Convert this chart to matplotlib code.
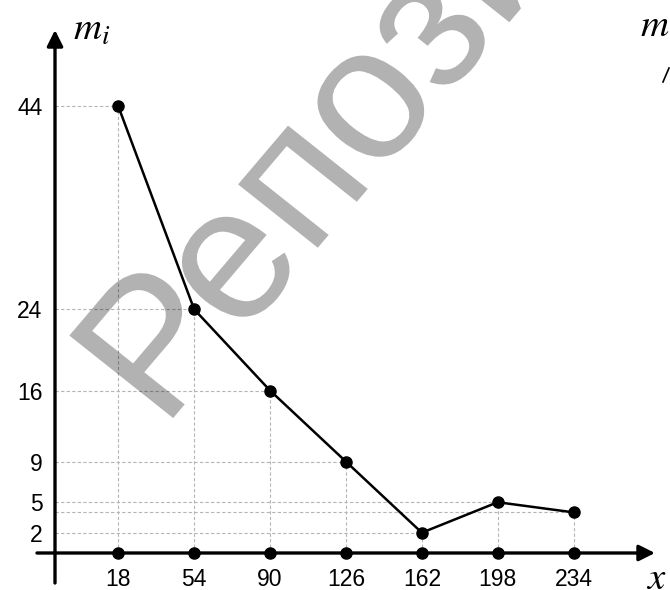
import numpy as np
import matplotlib.pyplot as plt
from matplotlib.textpath import TextPath
from matplotlib.patches import PathPatch
from matplotlib.font_manager import FontProperties
from matplotlib.transforms import Affine2D

plt.rcParams['font.family'] = ['Liberation Sans', 'DejaVu Sans']
plt.rcParams['mathtext.fontset'] = 'stix'

# -----------------------------
# Données
# -----------------------------
x_vals = [18, 54, 90, 126, 162, 198, 234]
m_vals = [44, 24, 16, 9, 2, 5, 4]
y_ticks = [44, 24, 16, 9, 5, 2]
x_lim = (-12.0, 272.6)
y_lim = (0, 51.5)

# -----------------------------
# Figure
# -----------------------------
fig = plt.figure(figsize=(6.7, 5.9), dpi=100)
ax = fig.add_axes([55 / 670, 1 - 553 / 590, 600 / 670, 523 / 590])
ax.set_xlim(*x_lim)
ax.set_ylim(*y_lim)
for s in ax.spines.values():
    s.set_visible(False)

# filigrane (texte tourné puis légèrement étiré)
tp = TextPath((0, 0), 'Репозиторий', size=136,
              prop=FontProperties(family='Liberation Sans'))
tr = (Affine2D().scale(1 / 72).rotate_deg(50.6).scale(1.034, 1.0)
      .translate(1.63, 1.60) + fig.dpi_scale_trans)
fig.patches.append(PathPatch(tp, transform=tr, facecolor='black', alpha=0.3,
                             edgecolor='none', zorder=0))

# lignes de rappel pointillées
for xi, mi in zip(x_vals, m_vals):
    ax.plot([xi, xi], [0, mi], ls=(0, (3, 2)), color='#b5b5b5', lw=0.8, zorder=1)
    ax.plot([x_lim[0], xi], [mi, mi], ls=(0, (3, 2)), color='#b5b5b5', lw=0.8, zorder=1)

# axes avec flèches
arrow = dict(arrowstyle='-|>', lw=2.4, color='black', mutation_scale=24,
             shrinkA=0, shrinkB=0)
ax.annotate('', xy=(0, 1), xytext=(0, -30 / 523), xycoords='axes fraction',
            arrowprops=arrow, annotation_clip=False)
ax.annotate('', xy=(1, 0), xytext=(-18 / 600, 0), xycoords='axes fraction',
            arrowprops=arrow, annotation_clip=False)

# polygone
ax.plot(x_vals, m_vals, color='black', lw=1.8, marker='o', ms=8, zorder=3)
ax.plot(x_vals, np.zeros(len(x_vals)), ls='none', color='black', marker='o',
        ms=8, zorder=3, clip_on=False)

ax.set_xticks(x_vals)
ax.set_xticklabels([str(v) for v in x_vals], fontsize=16.5)
ax.set_yticks(y_ticks)
ax.set_yticklabels([str(v) for v in y_ticks], fontsize=16.5)
ax.tick_params(axis='x', length=0, pad=11)
ax.tick_params(axis='y', length=0, pad=9)

ax.text(0.03, 1.0, r'$m_i$', transform=ax.transAxes, fontsize=28,
        va='center', ha='left')
ax.text(0.985, -0.05, r'$x$', transform=ax.transAxes, fontsize=28,
        va='center', ha='left')
# morceau du graphique voisin, coupé au bord
fig.text(0.955, 0.955, r'$m_i$', fontsize=28, va='center', ha='left')
fig.add_artist(plt.Line2D([663 / 670, 669 / 670], [1 - 82 / 590, 1 - 68 / 590],
                          color='black', lw=1.2))

fig.savefig('out.png', dpi=100)
